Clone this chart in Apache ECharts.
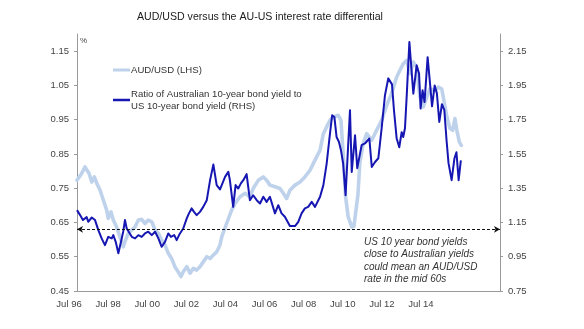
<!DOCTYPE html>
<html>
<head>
<meta charset="utf-8">
<script src="https://cdn.jsdelivr.net/npm/echarts@6/dist/echarts.min.js"></script>
<style>
html,body{margin:0;padding:0;background:#fff;}
#chart{width:584px;height:329px;}
</style>
</head>
<body>
<div id="chart"></div>
<script>
// ---------- DATA ----------
const titleText = 'AUD/USD versus the AU-US interest rate differential';
const audName = 'AUD/USD (LHS)';
const ratioName = 'Ratio of Australian 10-year bond yield to\nUS 10-year bond yield (RHS)';
const xTickLabels = ['Jul 96','Jul 98','Jul 00','Jul 02','Jul 04','Jul 06','Jul 08','Jul 10','Jul 12','Jul 14'];
const leftTicks = [0.45,0.55,0.65,0.75,0.85,0.95,1.05,1.15];
const rightTicks = [0.75,0.95,1.15,1.35,1.55,1.75,1.95,2.15];
const audMid60s = 0.627;
const noteText = 'US 10 year bond yields\nclose to Australian yields\ncould mean an AUD/USD\nrate in the mid 60s';

// AUD/USD, [decimal year, value]
const audData = [
 [1996.50,0.773],[1996.71,0.793],[1996.86,0.812],[1996.94,0.817],[1997.05,0.793],[1997.17,0.768],[1997.29,0.783],[1997.40,0.764],[1997.55,0.744],[1997.70,0.715],
 [1997.85,0.686],[1997.92,0.662],[1998.05,0.681],[1998.15,0.657],[1998.30,0.637],[1998.45,0.608],[1998.60,0.579],[1998.68,0.594],[1998.83,0.618],[1998.99,0.628],
 [1999.14,0.637],[1999.29,0.657],[1999.44,0.659],[1999.59,0.647],[1999.74,0.657],[1999.90,0.652],[2000.05,0.628],[2000.20,0.618],[2000.35,0.599],[2000.50,0.584],
 [2000.65,0.560],[2000.80,0.545],[2000.95,0.521],[2001.10,0.506],[2001.23,0.492],[2001.33,0.506],[2001.49,0.521],[2001.64,0.502],[2001.79,0.516],[2001.94,0.511],
 [2002.09,0.521],[2002.24,0.535],[2002.40,0.550],[2002.55,0.545],[2002.70,0.555],[2002.85,0.564],[2003.00,0.584],[2003.08,0.608],[2003.30,0.647],[2003.53,0.686],
 [2003.68,0.705],[2003.91,0.725],[2004.14,0.735],[2004.36,0.725],[2004.51,0.749],[2004.74,0.773],[2004.97,0.783],[2005.12,0.773],[2005.27,0.759],[2005.50,0.754],
 [2005.73,0.749],[2005.88,0.735],[2006.03,0.720],[2006.18,0.744],[2006.41,0.759],[2006.64,0.768],[2006.86,0.783],[2007.09,0.802],[2007.32,0.832],[2007.55,0.861],
 [2007.70,0.909],[2007.85,0.929],[2008.00,0.948],[2008.15,0.958],[2008.38,0.963],[2008.50,0.948],[2008.60,0.851],[2008.71,0.725],[2008.83,0.666],[2008.99,0.637],
 [2009.09,0.639],[2009.27,0.730],[2009.36,0.826],[2009.51,0.880],[2009.67,0.909],[2009.90,0.890],[2010.12,0.919],[2010.35,0.948],[2010.58,0.992],[2010.80,1.026],
 [2011.03,1.074],[2011.18,1.094],[2011.33,1.113],[2011.49,1.123],[2011.64,1.084],[2011.79,1.118],[2011.94,1.103],[2012.09,1.016],[2012.24,0.987],[2012.40,1.016],
 [2012.55,1.040],[2012.77,1.035],[2012.92,1.045],[2013.08,1.040],[2013.18,1.006],[2013.30,0.963],[2013.45,0.925],[2013.58,0.919],[2013.68,0.953],[2013.77,0.919],
 [2013.88,0.885],[2013.97,0.875]
];

// Ratio AU 10y / US 10y, [decimal year, value]
const ratioData = [
 [1996.50,1.222],[1996.64,1.193],[1996.77,1.164],[1996.94,1.181],[1997.01,1.154],[1997.17,1.179],[1997.32,1.164],[1997.47,1.105],[1997.62,1.057],[1997.77,1.018],
 [1997.92,1.066],[1998.08,1.057],[1998.15,1.076],[1998.26,1.037],[1998.38,0.970],[1998.50,1.037],[1998.60,1.096],[1998.68,1.164],[1998.76,1.115],[1998.83,1.125],
 [1998.99,1.066],[1999.14,1.057],[1999.29,1.076],[1999.44,1.066],[1999.59,1.086],[1999.74,1.096],[1999.90,1.076],[2000.05,1.096],[2000.20,1.057],[2000.35,1.008],
 [2000.50,1.037],[2000.65,1.086],[2000.77,1.066],[2000.92,1.076],[2001.03,1.047],[2001.18,1.086],[2001.33,1.115],[2001.49,1.174],[2001.59,1.203],[2001.71,1.232],
 [2001.82,1.212],[2001.94,1.193],[2002.09,1.212],[2002.24,1.241],[2002.40,1.280],[2002.55,1.397],[2002.70,1.488],[2002.85,1.368],[2003.00,1.343],[2003.08,1.368],
 [2003.23,1.416],[2003.38,1.445],[2003.45,1.397],[2003.60,1.241],[2003.71,1.368],[2003.83,1.348],[2003.95,1.378],[2004.06,1.397],[2004.21,1.432],[2004.36,1.280],
 [2004.51,1.309],[2004.67,1.280],[2004.82,1.261],[2004.97,1.300],[2005.12,1.270],[2005.27,1.300],[2005.50,1.203],[2005.65,1.251],[2005.80,1.203],[2005.95,1.183],
 [2006.18,1.129],[2006.41,1.129],[2006.56,1.154],[2006.71,1.203],[2006.86,1.232],[2007.01,1.241],[2007.17,1.270],[2007.32,1.241],[2007.55,1.300],[2007.70,1.368],
 [2007.85,1.494],[2008.00,1.669],[2008.10,1.776],[2008.20,1.766],[2008.30,1.649],[2008.41,1.620],[2008.50,1.572],[2008.60,1.494],[2008.71,1.309],[2008.80,1.533],
 [2008.91,1.805],[2008.99,1.445],[2009.14,1.659],[2009.24,1.467],[2009.44,1.601],[2009.59,1.611],[2009.79,1.640],[2009.90,1.474],[2010.05,1.503],[2010.20,1.525],
 [2010.35,1.700],[2010.50,1.892],[2010.65,1.991],[2010.73,1.991],[2010.82,1.956],[2010.91,1.805],[2011.03,1.642],[2011.15,1.589],[2011.26,1.677],[2011.33,1.649],
 [2011.41,1.700],[2011.49,1.892],[2011.61,2.203],[2011.79,1.902],[2011.94,2.067],[2012.05,2.019],[2012.12,1.815],[2012.21,1.921],[2012.30,1.853],[2012.36,1.863],
 [2012.44,2.115],[2012.55,1.960],[2012.64,1.828],[2012.76,1.950],[2012.86,1.904],[2012.97,1.737],[2013.09,1.840],[2013.20,1.805],[2013.30,1.630],[2013.39,1.496],
 [2013.53,1.397],[2013.66,1.525],[2013.75,1.560],[2013.85,1.397],[2013.95,1.513]
];

// ---------- CHART ----------
const FONT = 'Liberation Sans, Arial, Helvetica, sans-serif';
const AXIS_GREY = '#9a9a9a';
const LABEL_COLOR = '#444';
const chart = echarts.init(document.getElementById('chart'), null, {renderer: 'canvas'});

const option = {
  backgroundColor: '#ffffff',
  animation: false,
  title: {
    text: titleText,
    left: 132, top: 7,
    textStyle: {fontFamily: FONT, fontSize: 10.6, fontWeight: 'normal', color: '#1a1a1a'}
  },
  legend: [
    {
      data: [{name: audName, icon: 'rect'}],
      left: 113, top: 64, padding: 0,
      itemWidth: 17, itemHeight: 3,
      textStyle: {fontFamily: FONT, fontSize: 9.6, color: '#333', lineHeight: 12, padding: [0, 0, 0, -4]}
    },
    {
      data: [{name: ratioName, icon: 'rect'}],
      left: 113, top: 82, padding: 0,
      itemWidth: 17, itemHeight: 2.5,
      textStyle: {fontFamily: FONT, fontSize: 9.6, color: '#333', lineHeight: 12, padding: [12, 0, 0, -4]}
    }
  ],
  grid: [
    {left: 77, right: 84, top: 34, bottom: 38},
    {left: 49.5, width: 391, top: 290, height: 1}
  ],
  xAxis: [
    {
      type: 'value', gridIndex: 0,
      min: 1996.5, max: 2015.73,
      axisLine: {show: true, lineStyle: {color: AXIS_GREY, width: 1}},
      axisTick: {show: false},
      axisLabel: {show: false},
      splitLine: {show: false}
    },
    {
      type: 'category', gridIndex: 1,
      data: xTickLabels,
      boundaryGap: true,
      axisLine: {show: false},
      axisTick: {show: false},
      axisLabel: {interval: 0, margin: 8, fontFamily: FONT, fontSize: 9.5, color: LABEL_COLOR},
      splitLine: {show: false}
    }
  ],
  yAxis: [
    {
      type: 'value', gridIndex: 0, position: 'left',
      min: 0.45, max: 1.2,
      name: '%', nameLocation: 'end', nameGap: -3,
      nameTextStyle: {fontFamily: FONT, fontSize: 8, color: LABEL_COLOR, align: 'left', verticalAlign: 'top', padding: [0, 0, 0, 3]},
      axisLine: {show: true, lineStyle: {color: AXIS_GREY, width: 1}},
      axisTick: {show: true, length: 3, customValues: leftTicks, lineStyle: {color: AXIS_GREY}},
      axisLabel: {customValues: leftTicks, margin: 8, fontFamily: FONT, fontSize: 9.5, color: LABEL_COLOR,
                  formatter: v => v.toFixed(2)},
      splitLine: {show: false}
    },
    {
      type: 'value', gridIndex: 0, position: 'right',
      min: 0.75, max: 2.25,
      axisLine: {show: true, lineStyle: {color: AXIS_GREY, width: 1}},
      axisTick: {show: true, length: 3, customValues: rightTicks, lineStyle: {color: AXIS_GREY}},
      axisLabel: {customValues: rightTicks, margin: 8, fontFamily: FONT, fontSize: 9.5, color: LABEL_COLOR,
                  formatter: v => v.toFixed(2)},
      splitLine: {show: false}
    },
    {
      type: 'value', gridIndex: 1, min: 0, max: 1, show: false
    }
  ],
  series: [
    {
      name: audName, type: 'line', xAxisIndex: 0, yAxisIndex: 0,
      data: audData, showSymbol: false, symbol: 'none', smooth: false,
      lineStyle: {color: '#bfd2eb', width: 3.6, join: 'round', cap: 'round'},
      itemStyle: {color: '#bfd2eb'},
      z: 2,
      markLine: {
        silent: true,
        symbol: ['arrow', 'arrow'], symbolSize: [5, 6],
        label: {show: false},
        lineStyle: {color: '#111', type: [3, 2], width: 1.2},
        data: [{yAxis: audMid60s}]
      }
    },
    {
      name: ratioName, type: 'line', xAxisIndex: 0, yAxisIndex: 1,
      data: ratioData, showSymbol: false, symbol: 'none', smooth: false,
      lineStyle: {color: '#1616b2', width: 2, join: 'round'},
      itemStyle: {color: '#1616b2'},
      z: 3
    }
  ],
  graphic: [
    {
      type: 'text', left: 364, top: 236,
      style: {text: noteText, fontFamily: FONT, fontSize: 10, fontStyle: 'italic', fill: '#333', lineHeight: 12.3}
    }
  ]
};
chart.setOption(option);
</script>
</body>
</html>
